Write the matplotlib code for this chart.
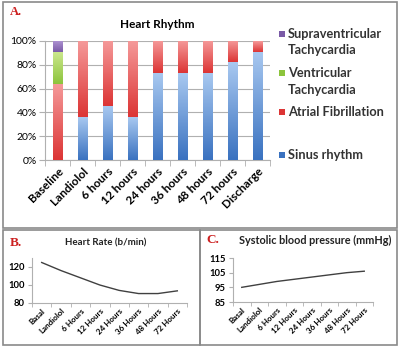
import numpy as np
import matplotlib
matplotlib.use("Agg")
import matplotlib.pyplot as plt
from matplotlib.patches import Rectangle
from matplotlib.colors import LinearSegmentedColormap

plt.rcParams['font.family'] = ['Lato', 'DejaVu Sans']

# ---- data ----
rhythm_cats = ["Baseline", "Landiolol", "6 hours", "12 hours", "24 hours",
               "36 hours", "48 hours", "72 hours", "Discharge"]
sinus = [0, 36, 45, 36, 73, 73, 73, 82, 91]
atrial_fib = [64, 64, 55, 64, 27, 27, 27, 18, 9]
vent_tachy = [27, 0, 0, 0, 0, 0, 0, 0, 0]
supra_tachy = [9, 0, 0, 0, 0, 0, 0, 0, 0]
series_names = ["Sinus rhythm", "Atrial Fibrillation", "Ventricular\nTachycardia",
                "Supraventricular\nTachycardia"]

time_cats = ["Basal", "Landiolol", "6 Hours", "12 Hours", "24 Hours",
             "36 Hours", "48 Hours", "72 Hours"]
heart_rate = [125, 116, 108, 100, 94, 90.5, 90.5, 93.5]
systolic_bp = [95, 97, 99, 100.5, 102, 103.5, 105, 106]

fig = plt.figure(figsize=(4.0, 3.48), dpi=100)
fig.patch.set_facecolor("white")

# panel borders
border = "#8a8a8a"
for (x0, y0, x1, y1) in [(3, 2, 397, 228), (3, 230, 200, 345), (200, 230, 397, 345)]:
    fig.add_artist(Rectangle((x0 / 400, 1 - y1 / 348), (x1 - x0) / 400, (y1 - y0) / 348,
                             transform=fig.transFigure, fill=False, edgecolor=border, lw=1.2))

grid_col = "#b0b0b0"

# ---- Panel A ----
axA = fig.add_axes([45 / 400, 1 - 160 / 348, 225 / 400, 119 / 348])
x = np.arange(len(rhythm_cats))
w = 0.4
colors = [("#a8c8f0", "#3a72c0"), ("#f59a9a", "#dc3535"),
          ("#cde88f", "#8cc43c"), ("#ab90d0", "#7a5aa6")]
bottom = np.zeros(len(x))
grad = np.linspace(1, 0, 64).reshape(-1, 1)
for vals, lab, (ctop, cbot) in zip([sinus, atrial_fib, vent_tachy, supra_tachy],
                                   series_names, colors):
    vals = np.array(vals, dtype=float)
    bars = axA.bar(x, vals, w, bottom=bottom, color=cbot, edgecolor="none", zorder=2, label=lab)
    cmap = LinearSegmentedColormap.from_list("g", [cbot, ctop])
    for b in bars:
        if b.get_height() <= 0:
            continue
        bx, by = b.get_x(), b.get_y()
        bw, bh = b.get_width(), b.get_height()
        im = axA.imshow(grad, cmap=cmap, aspect="auto", extent=[bx, bx + bw, by, by + bh],
                        zorder=3, vmin=0, vmax=1)
        im.set_clip_path(b)
    bottom += vals

axA.set_xlim(-0.5, len(x) - 0.5)
axA.set_ylim(0, 100)
axA.set_yticks([0, 20, 40, 60, 80, 100])
axA.set_yticklabels([f"{v}%" for v in [0, 20, 40, 60, 80, 100]], fontsize=7.5)
axA.yaxis.grid(True, color=grid_col, lw=0.8, zorder=0)
axA.set_axisbelow(True)
axA.set_xticks(x)
axA.set_xticklabels(rhythm_cats, rotation=45, ha="right", rotation_mode="anchor",
                    fontsize=8.5, fontweight="bold")
axA.tick_params(axis="x", length=0, pad=4)
axA.set_xticks(np.arange(-0.5, len(x), 1), minor=True)
axA.tick_params(axis="x", which="minor", length=4, color=grid_col)
axA.tick_params(axis="y", length=4, color=grid_col, pad=2)
for s in ["top", "right"]:
    axA.spines[s].set_visible(False)
axA.spines["left"].set_color(grid_col)
axA.spines["bottom"].set_color(grid_col)
axA.set_title("Heart Rhythm", fontsize=8.5, fontweight="bold", pad=9)

# legend (drawn manually to match the original placement)
leg_y = [155, 112, 73, 34]  # pixel rows of markers: SR, AF, VT, SVT
for name, (ctop, cbot), yy in zip(series_names, colors, leg_y):
    fig.add_artist(Rectangle((279 / 400, 1 - (yy + 3) / 348), 6 / 400, 6 / 348,
                             transform=fig.transFigure, facecolor=cbot, edgecolor="none"))
    fig.text(288 / 400, 1 - (yy - 6) / 348, name, fontsize=9.2, fontweight="bold",
             color="#333333", va="top", ha="left", linespacing=1.45)

fig.text(10 / 400, 1 - 15 / 348, "A.", color="#cc1f1f", fontsize=9, fontweight="bold",
         family="Liberation Serif")

# ---- Panels B and C ----
def line_panel(rect, vals, ylim, yticks, title, tx, ty, tsize, letter, lx):
    ax = fig.add_axes(rect)
    xi = np.arange(len(time_cats))
    ax.plot(xi, vals, color="#404040", lw=1.0)
    ax.set_xlim(-0.5, len(time_cats) - 0.5)
    ax.set_ylim(*ylim)
    ax.set_yticks(yticks)
    ax.set_yticklabels([str(v) for v in yticks], fontsize=6.8, fontweight="bold")
    ax.set_xticks(xi)
    ax.set_xticklabels(time_cats, rotation=45, ha="right", rotation_mode="anchor",
                       fontsize=5.8, fontweight="bold")
    ax.tick_params(axis="x", length=0, pad=3)
    ax.set_xticks(np.arange(-0.5, len(time_cats), 1), minor=True)
    ax.tick_params(axis="x", which="minor", length=3, color=grid_col)
    ax.tick_params(axis="y", length=3, color=grid_col, pad=2)
    for s in ["top", "right"]:
        ax.spines[s].set_visible(False)
    ax.spines["left"].set_color(grid_col)
    ax.spines["bottom"].set_color(grid_col)
    fig.text(tx, ty, title, fontsize=tsize, fontweight="bold",
             ha="center", va="center", color="#222222")
    fig.text(lx, ty, letter, color="#cc1f1f", fontsize=9.5, fontweight="bold",
             family="Liberation Serif", va="center")
    return ax

line_panel([32 / 400, 1 - 303 / 348, 155 / 400, 45 / 348], heart_rate, (80, 130),
           [80, 100, 120], "Heart Rate (b/min)", 106 / 400, 1 - 243 / 348, 7, "B.", 10 / 400)
line_panel([233 / 400, 1 - 302 / 348, 140 / 400, 44 / 348], systolic_bp, (85, 115),
           [85, 95, 105, 115], "Systolic blood pressure (mmHg)", 315 / 400, 1 - 240 / 348,
           7.8, "C.", 206 / 400)

fig.savefig("out.png", dpi=100, facecolor="white")
